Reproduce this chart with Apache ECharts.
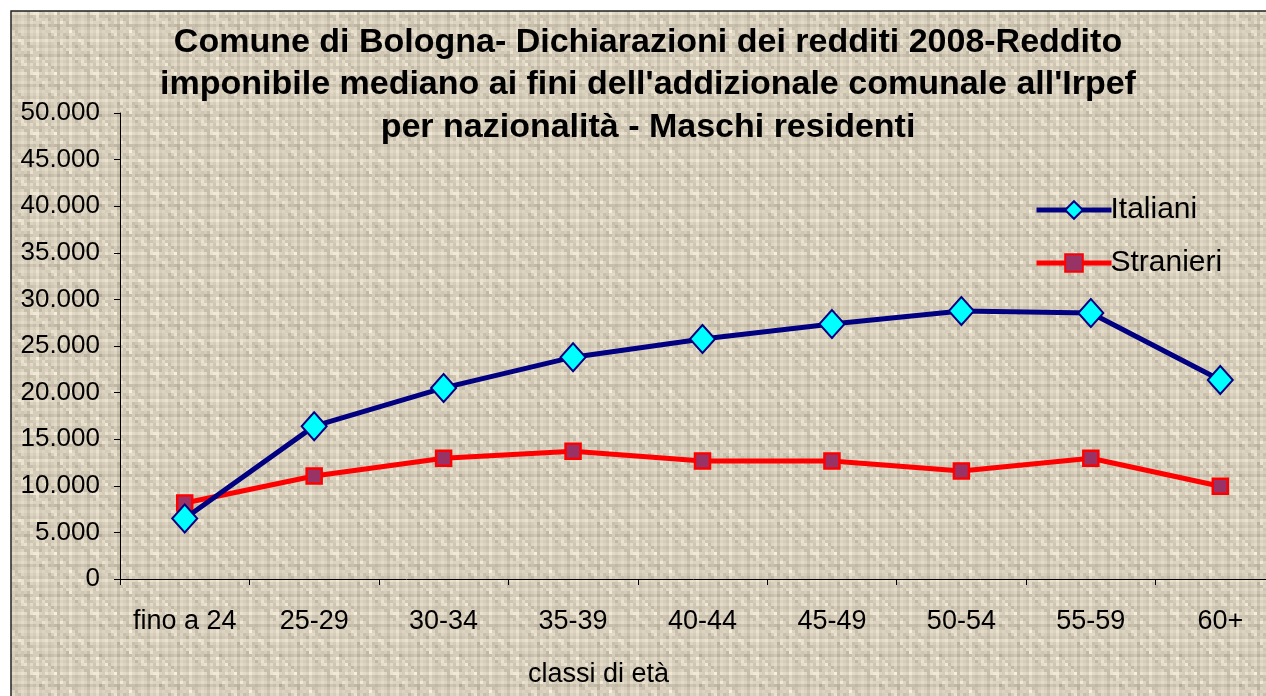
<!DOCTYPE html>
<html>
<head>
<meta charset="utf-8">
<script src="https://cdn.jsdelivr.net/npm/echarts@6/dist/echarts.min.js"></script>
<style>
  html, body { margin: 0; padding: 0; background: #fff; }
  #chart { width: 1266px; height: 696px; }
</style>
</head>
<body>
<div id="chart"></div>
<script>
const categories = ['fino a 24', '25-29', '30-34', '35-39', '40-44', '45-49', '50-54', '55-59', '60+'];
const italiani = [6500, 16400, 20500, 23800, 25750, 27350, 28750, 28550, 21350];
const stranieri = [8150, 11050, 12950, 13700, 12650, 12650, 11600, 12950, 9950];
const yTicks = [0, 5000, 10000, 15000, 20000, 25000, 30000, 35000, 40000, 45000, 50000];

// trama dello sfondo: righe e colonne chiare/scure alternate, tipo tela
function makeTexture() {
    const size = 60, cell = 3;
    const c = document.createElement('canvas');
    c.width = size; c.height = size;
    const ctx = c.getContext('2d');
    const rowTone = [0, 1, -1, 0, 2, -1, 0, 1, -2, 0, 1, 0, -1, 2, 0, -1, 1, 0, -2, 1];
    const colTone = [1, 0, -1, 2, 0, -1, 0, 1, 0, -2, 1, 0, 2, -1, 0, 1, -1, 0, 1, -2];
    for (let i = 0; i < size / cell; i++) {
        for (let j = 0; j < size / cell; j++) {
            const t = rowTone[i] + colTone[j] + ((i * 7 + j * 13) % 5 === 0 ? -2 : 0) + ((i * 3 + j * 11) % 7 === 0 ? 2 : 0);
            const r = 214 + t * 7, g = 204 + t * 7, b = 186 + t * 7;
            ctx.fillStyle = 'rgb(' + r + ',' + g + ',' + b + ')';
            ctx.fillRect(j * cell, i * cell, cell, cell);
        }
    }
    return c;
}

const chart = echarts.init(document.getElementById('chart'));
const option = {
    backgroundColor: '#ffffff',
    animation: false,
    textStyle: { fontFamily: 'Liberation Sans, Arial, sans-serif' },
    graphic: [
        {
            type: 'rect',
            z: -10,
            silent: true,
            shape: { x: 11, y: 11, width: 1300, height: 720 },
            style: { fill: { image: makeTexture(), repeat: 'repeat' }, stroke: '#222', lineWidth: 1.5 }
        }
    ],
    title: {
        text: "Comune di Bologna- Dichiarazioni dei redditi 2008-Reddito\nimponibile mediano ai fini dell'addizionale comunale all'Irpef\nper nazionalità - Maschi residenti",
        left: 643,
        top: 16,
        textAlign: 'center',
        textStyle: {
            fontSize: 34,
            fontWeight: 'bold',
            color: '#000',
            lineHeight: 42.5,
            fontFamily: 'Liberation Sans, Arial, sans-serif'
        }
    },
    legend: {
        orient: 'vertical',
        left: 1029,
        top: 190,
        itemWidth: 75,
        itemHeight: 22,
        itemGap: 23,
        textStyle: { fontSize: 30, color: '#000', padding: [0, 0, 0, -6] },
        data: [
            { name: 'Italiani', lineStyle: { width: 5 } },
            { name: 'Stranieri', lineStyle: { width: 5 } }
        ]
    },
    grid: {
        left: 120,
        top: 113,
        width: 1165,
        height: 466,
        containLabel: false,
        outerBoundsMode: 'none'
    },
    xAxis: {
        type: 'category',
        data: categories,
        boundaryGap: true,
        name: 'classi di età',
        nameLocation: 'middle',
        nameGap: 82,
        nameTextStyle: { fontSize: 27, color: '#000', padding: [0, 0, 0, -208] },
        axisLine: { lineStyle: { color: '#000', width: 1 } },
        axisTick: { show: true, interval: 0, length: 6, lineStyle: { color: '#000' } },
        axisLabel: { fontSize: 27, color: '#000', margin: 29, interval: 0, hideOverlap: false }
    },
    yAxis: {
        type: 'value',
        min: yTicks[0],
        max: yTicks[yTicks.length - 1],
        interval: 5000,
        axisLine: { show: true, lineStyle: { color: '#000', width: 1 } },
        axisTick: { show: true, length: 6, lineStyle: { color: '#000' } },
        splitLine: { show: false },
        axisLabel: {
            fontSize: 26,
            color: '#000',
            margin: 20,
            formatter: function (v) {
                return v === 0 ? '0' : v.toLocaleString('it-IT');
            }
        }
    },
    series: [
        {
            name: 'Italiani',
            type: 'line',
            data: italiani,
            symbol: 'diamond',
            symbolSize: [25, 28],
            lineStyle: { color: '#000080', width: 5 },
            itemStyle: { color: '#00ffff', borderColor: '#000080', borderWidth: 2 },
            z: 3
        },
        {
            name: 'Stranieri',
            type: 'line',
            data: stranieri,
            symbol: 'rect',
            symbolSize: 15,
            lineStyle: { color: '#ff0000', width: 5 },
            itemStyle: { color: '#993366', borderColor: '#ff0000', borderWidth: 2.5 },
            z: 2
        }
    ]
};
chart.setOption(option);
</script>
</body>
</html>
